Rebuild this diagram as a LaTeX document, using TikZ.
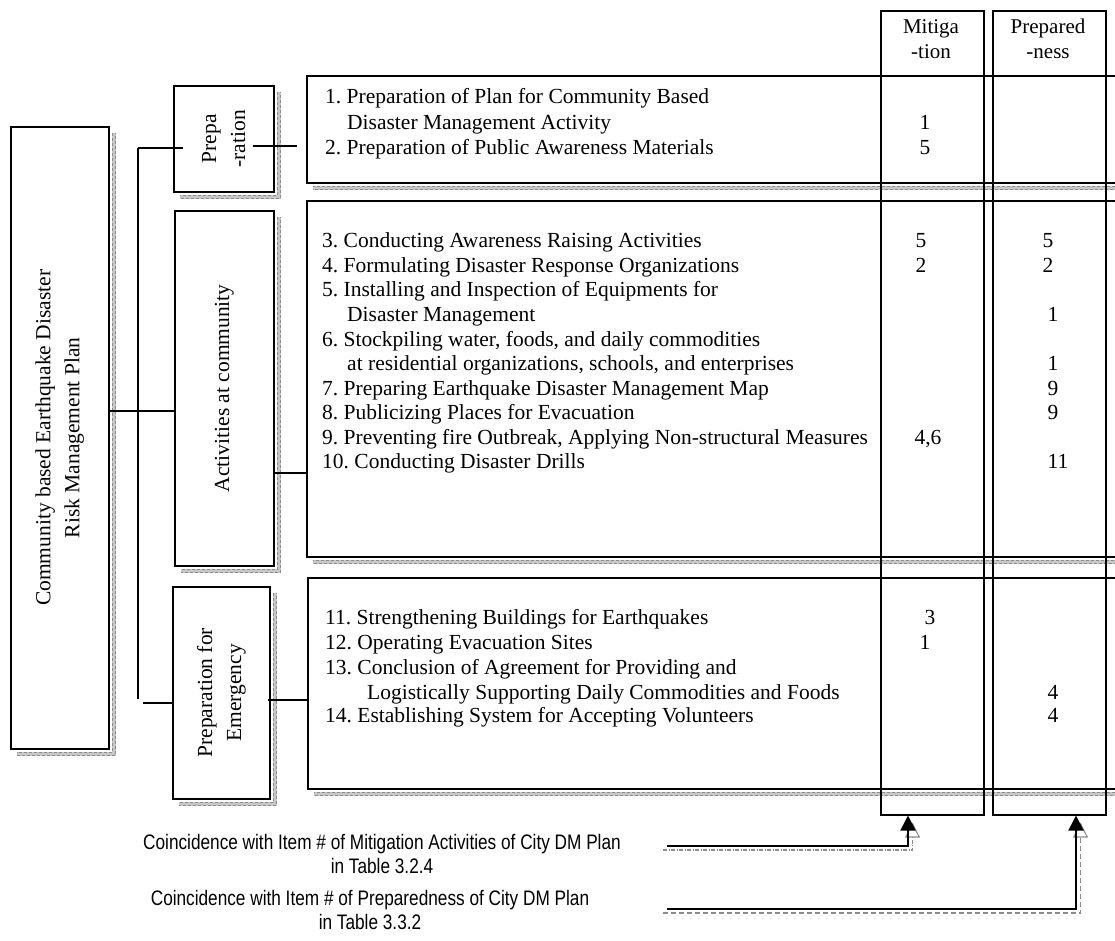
\documentclass[tikz,border=0pt]{standalone}
\usepackage{fontspec}
\setmainfont{Liberation Serif}
\newfontfamily\captionface[FakeStretch=0.82]{Liberation Sans}
\usetikzlibrary{arrows.meta,calc}
\frenchspacing
\colorlet{shadowgrey}{black!45}
\colorlet{shadowlight}{black!22}
\newcommand\bodysize{\fontsize{21.5}{25}\selectfont}
\tikzset{
  frame/.style={draw, line width=1.5pt, inner sep=0pt, anchor=north west},
  link/.style={line width=1.5pt},
  shadowband/.style={draw=shadowlight, line width=4.5pt},
  shadowdash/.style={draw=shadowgrey, line width=1.3pt, dash pattern=on 3pt off 2pt},
  entry/.style={anchor=base west, inner sep=0pt, font=\bodysize},
  score/.style={anchor=base, inner sep=0pt, font=\bodysize},
  turned/.style={rotate=90, align=center, inner sep=0pt, font=\fontsize{21.5}{29}\selectfont},
  colhead/.style={align=center, inner sep=0pt, font=\fontsize{21}{25}\selectfont},
  note/.style={align=center, inner sep=0pt, font=\captionface\fontsize{21}{24}\selectfont},
  pointer/.style={line width=1.8pt, -{Triangle[width=15pt,length=15pt]}},
  pointershadeA/.style={draw=shadowgrey, line width=1.1pt, dash pattern=on 4pt off 1.5pt on 1pt off 1.5pt,
    -{Triangle[open,width=15pt,length=15pt]}},
  pointershadeB/.style={draw=shadowgrey, line width=1.1pt, dash pattern=on 5pt off 3pt,
    -{Triangle[open,width=15pt,length=15pt]}},
}
% drop shadow along the right and bottom sides of a framed node:
% a pale band carrying two staggered rows of grey dashes
\newcommand\dropshadow[1]{%
  \path[shadowband] ($(#1.north east)+(4.5,7)$) -- ($(#1.south east)+(4.5,4.5)$) -- ($(#1.south west)+(7,4.5)$);
  \path[shadowdash] ($(#1.north east)+(3.2,7)$) -- ($(#1.south east)+(3.2,3.2)$) -- ($(#1.south west)+(7,3.2)$);
  \path[shadowdash, dash phase=2.5pt] ($(#1.north east)+(5.8,7)$) -- ($(#1.south east)+(5.8,5.8)$) -- ($(#1.south west)+(7,5.8)$);
}
\begin{document}
\begin{tikzpicture}[x=1pt,y=-1pt]
\useasboundingbox (0,0) rectangle (1115,940);
\begin{scope}
\clip (0,0) rectangle (1115,940);

% ---- frames ----
\node[frame, minimum width=98pt,  minimum height=622pt] (plan)  at (10,126) {};
\node[frame, minimum width=100pt, minimum height=106pt] (prepa) at (173,85) {};
\node[frame, minimum width=99pt,  minimum height=355pt] (activ) at (174,210) {};
\node[frame, minimum width=97pt,  minimum height=212pt] (emerg) at (172,586) {};
\node[frame, minimum width=830pt, minimum height=107pt] (listA) at (306,75) {};
\node[frame, minimum width=830pt, minimum height=356pt] (listB) at (306,200) {};
\node[frame, minimum width=830pt, minimum height=211pt] (listC) at (307,577) {};

\dropshadow{plan}
\dropshadow{prepa}
\dropshadow{activ}
\dropshadow{emerg}
\dropshadow{listA}
\dropshadow{listB}
\dropshadow{listC}

% ---- result columns ----
\node[frame, minimum width=103pt, minimum height=804pt] (colM) at (880,10) {};
\node[frame, minimum width=113pt, minimum height=804pt] (colP) at (992,10) {};
\node[colhead] (headM) at (931,39) {Mitiga\\-tion};
\node[colhead] (headP) at (1048,39) {Prepared\\-ness};

% ---- rotated titles ----
\node[turned] (planT)  at (plan.center)  {Community based Earthquake Disaster\\Risk Management Plan};
\node[turned] (prepaT) at (prepa.center) {Prepa\\-ration};
\node[turned] (activT) at (activ.center) {Activities at community};
\node[turned] (emergT) at (emerg.center) {Preparation for\\Emergency};

% ---- tree connectors ----
\coordinate (ttop) at (138,148);
\coordinate (tbot) at (138,699);
\coordinate (tfoot) at (143,703);
\coordinate (prR) at (253,146);
\draw[link] (ttop) -- (tbot);
\draw[link] (ttop) -- ($(prepa.west |- ttop)+(10,0)$);
\draw[link] (plan.east |- 0,411) -- (activ.west |- 0,411);
\draw[link] (tfoot) -- (emerg.west |- tfoot);
\draw[link] (prR) -- ($(prR -| listA.west)+(-9,0)$);
\draw[link] (activ.east |- 0,473) -- (listB.west |- 0,473);
\draw[link] ($(emerg.east |- 0,700)+(-3,0)$) -- (listC.west |- 0,700);

% ---- first list ----
\node[entry] (a1)  at (325,103) {1. Preparation of Plan for Community Based};
\node[entry] (a1b) at (347,129) {Disaster Management Activity};
\node[entry] (a2)  at (325,154) {2. Preparation of Public Awareness Materials};
\node[score] (a1m) at (925,129) {1};
\node[score] (a2m) at (925,154) {5};

% ---- second list ----
\node[entry] (b3)  at (322,247) {3. Conducting Awareness Raising Activities};
\node[entry] (b4)  at (322,272) {4. Formulating Disaster Response Organizations};
\node[entry] (b5)  at (322,296) {5. Installing and Inspection of Equipments for};
\node[entry] (b5b) at (347,321) {Disaster Management};
\node[entry] (b6)  at (322,346) {6. Stockpiling water, foods, and daily commodities};
\node[entry] (b6b) at (347,370) {at residential organizations, schools, and enterprises};
\node[entry] (b7)  at (322,395) {7. Preparing Earthquake Disaster Management Map};
\node[entry] (b8)  at (322,419) {8. Publicizing Places for Evacuation};
\node[entry] (b9)  at (322,444) {9. Preventing fire Outbreak, Applying Non-structural Measures};
\node[entry] (b10) at (322,468) {10. Conducting Disaster Drills};
\node[score] (b3m)  at (921,247) {5};
\node[score] (b4m)  at (921,272) {2};
\node[score] (b9m)  at (928,444) {4,6};
\node[score] (b3p)  at (1048,247) {5};
\node[score] (b4p)  at (1048,272) {2};
\node[score] (b5p)  at (1053,321) {1};
\node[score] (b6p)  at (1053,370) {1};
\node[score] (b7p)  at (1053,395) {9};
\node[score] (b8p)  at (1053,419) {9};
\node[score] (b10p) at (1058,468) {11};

% ---- third list ----
\node[entry] (c11)  at (325,624) {11. Strengthening Buildings for Earthquakes};
\node[entry] (c12)  at (325,649) {12. Operating Evacuation Sites};
\node[entry] (c13)  at (325,674) {13. Conclusion of Agreement for Providing and};
\node[entry] (c13b) at (367,699) {Logistically Supporting Daily Commodities and Foods};
\node[entry] (c14)  at (325,722) {14. Establishing System for Accepting Volunteers};
\node[score] (c11m) at (930,624) {3};
\node[score] (c12m) at (925,649) {1};
\node[score] (c13p) at (1053,699) {4};
\node[score] (c14p) at (1053,722) {4};

% ---- references to the city plan ----
\node[note] (noteM) at (382,854) {Coincidence with Item \# of Mitigation Activities of City DM Plan\\in Table 3.2.4};
\node[note] (noteP) at (370,910) {Coincidence with Item \# of Preparedness of City DM Plan\\in Table 3.3.2};
\coordinate (startM) at (667,846);
\coordinate (startP) at (667,909);
\draw[pointershadeA] ($(startM)+(-4,4)$) -| ($(colM.south west)+(32.5,7)$);
\draw[pointershadeB] ($(startP)+(-4,4)$) -| ($(colP.south west)+(88.5,7)$);
\draw[pointer] (startM) -| ($(colM.south west)+(28,0)$);
\draw[pointer] (startP) -| ($(colP.south west)+(84,0)$);
\end{scope}
\end{tikzpicture}
\end{document}
